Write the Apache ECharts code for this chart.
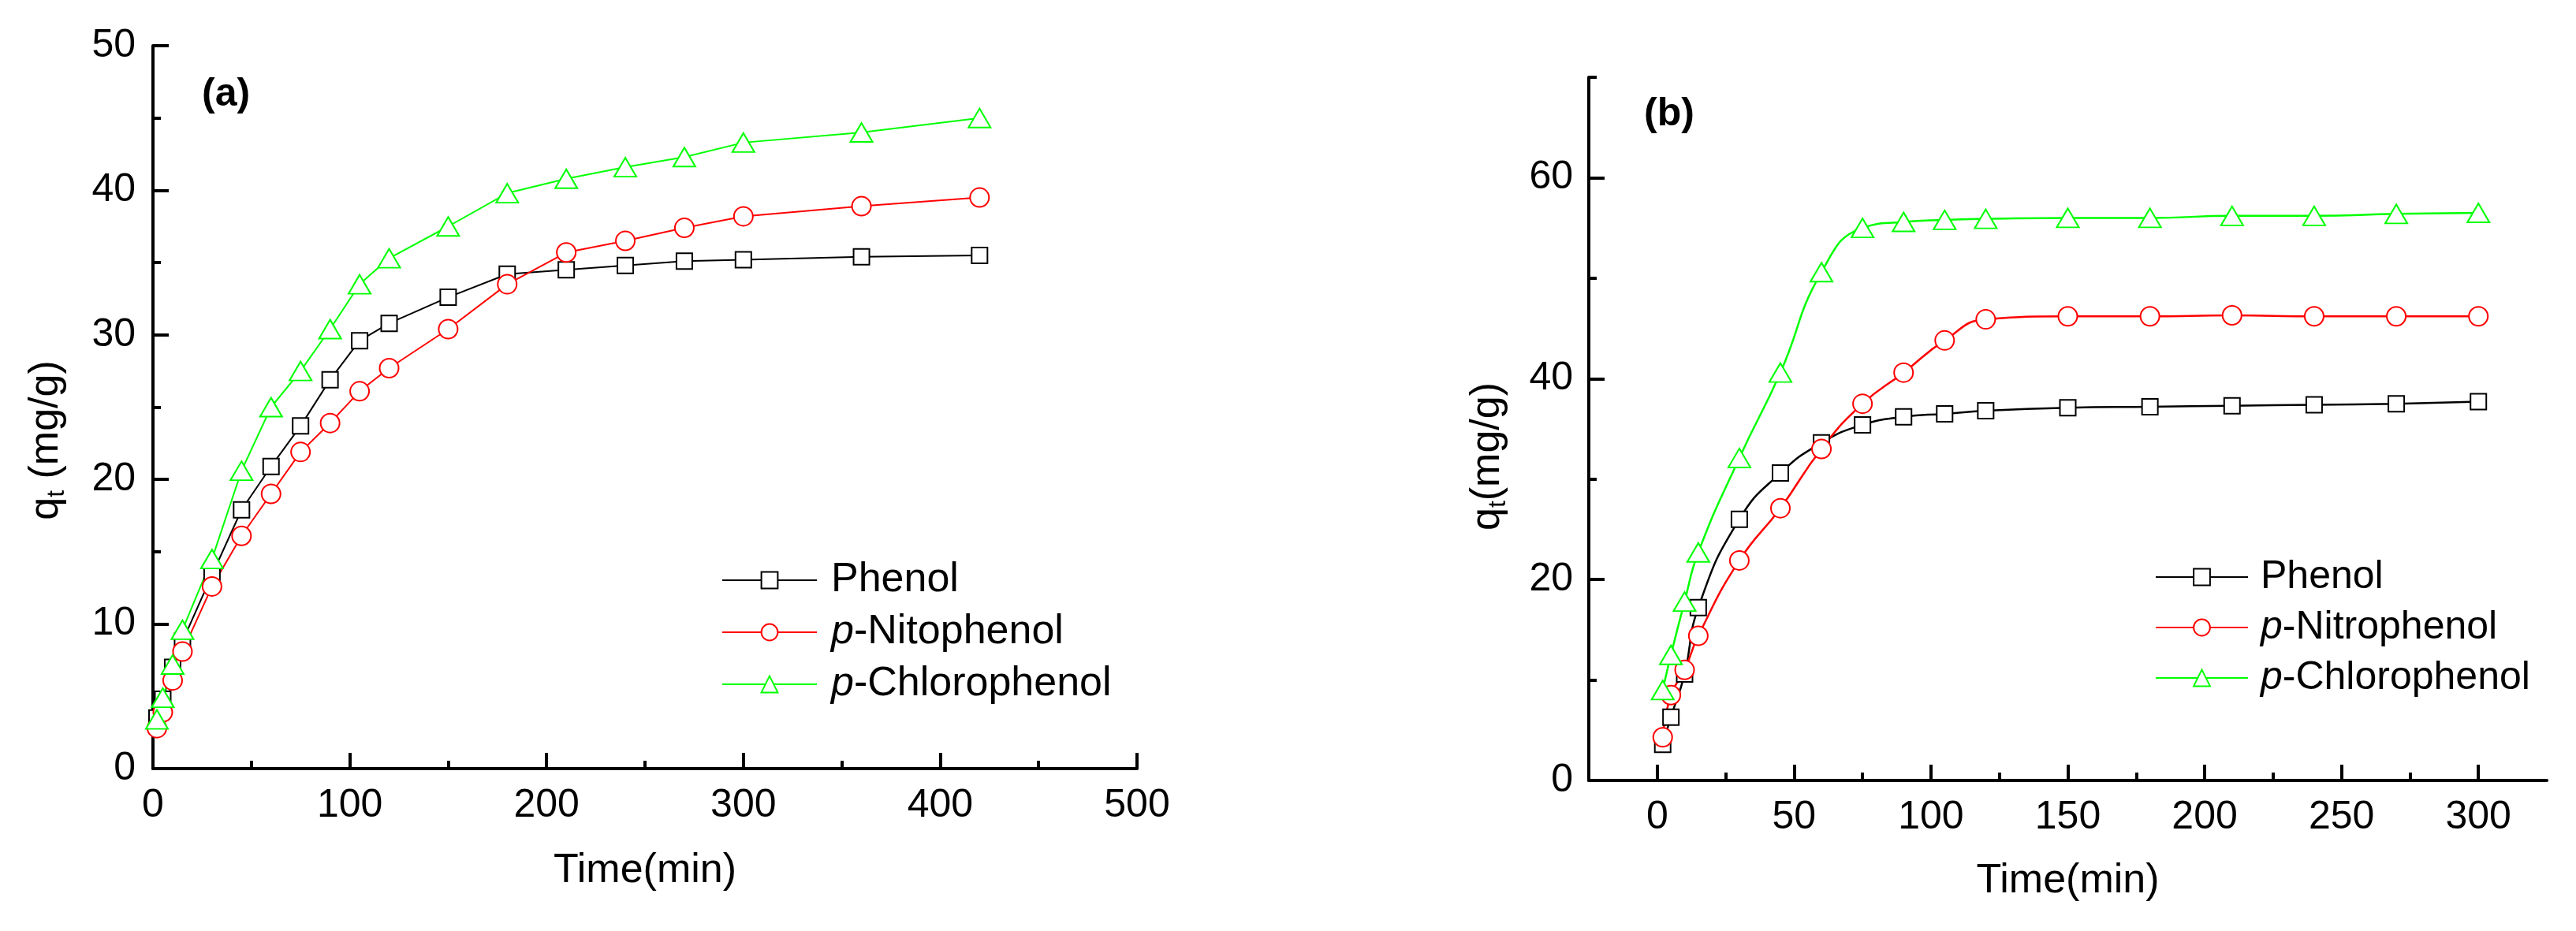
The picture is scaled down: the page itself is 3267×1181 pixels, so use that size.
<!DOCTYPE html>
<html>
<head>
<meta charset="utf-8">
<script src="https://cdn.jsdelivr.net/npm/echarts@6/dist/echarts.min.js"></script>
<style>
  html, body { margin: 0; padding: 0; background: #fff; }
  #main { width: 3267px; height: 1181px; }
</style>
</head>
<body>
<div id="main"></div>
<script>
// ---- panel (a) data ----
var timeA = [2, 5, 10, 15, 30, 45, 60, 75, 90, 105, 120, 150, 180, 210, 240, 270, 300, 360, 420];
var phenolA = [3.5, 4.8, 7.0, 8.8, 13.4, 17.9, 20.9, 23.7, 26.9, 29.6, 30.8, 32.6, 34.2, 34.5, 34.8, 35.1, 35.2, 35.4, 35.5];
var nitroA = [2.8, 3.9, 6.1, 8.1, 12.6, 16.1, 19.0, 21.9, 23.9, 26.1, 27.7, 30.4, 33.5, 35.7, 36.5, 37.4, 38.2, 38.9, 39.5];
var chloroA = [3.4, 4.9, 7.2, 9.6, 14.5, 20.6, 25.0, 27.5, 30.4, 33.5, 35.3, 37.5, 39.8, 40.8, 41.6, 42.3, 43.3, 44.0, 45.0];

// ---- panel (b) data ----
var timeB = [2, 5, 10, 15, 30, 45, 60, 75, 90, 105, 120, 150, 180, 210, 240, 270, 300];
var phenolB = [3.6, 6.3, 10.6, 17.2, 26.0, 30.6, 33.6, 35.4, 36.2, 36.5, 36.8, 37.1, 37.2, 37.3, 37.4, 37.5, 37.7];
var nitroB = [4.3, 8.5, 11.0, 14.4, 21.9, 27.1, 33.0, 37.5, 40.6, 43.8, 45.9, 46.2, 46.2, 46.3, 46.2, 46.2, 46.2];
var chloroB = [9.0, 12.5, 17.8, 22.7, 32.1, 40.6, 50.6, 55.0, 55.6, 55.8, 55.9, 56.0, 56.0, 56.2, 56.2, 56.4, 56.5];

// axis ticks for panel (b), which starts at -25
var xLabelsB = [0, 50, 100, 150, 200, 250, 300];
var xMinorB = [25, 75, 125, 175, 225, 275];
var yLabelsB = [0, 20, 40, 60];
var yMinorB = [10, 30, 50, 70];

var namesA = ['Phenol', 'p-Nitophenol', 'p-Chlorophenol'];
var namesB = ['Phenol', 'p-Nitrophenol', 'p-Chlorophenol'];

function pairs(xs, ys) {
    return xs.map(function (x, i) { return [x, ys[i]]; });
}

var FONT = '"Liberation Sans", Arial, sans-serif';
var black = '#000000', red = '#ff0000', green = '#00ff00';

var myChart = echarts.init(document.getElementById('main'));

var lbl = { color: '#000', fontSize: 50, fontFamily: FONT, margin: 22 };
var tickStyle = { width: 4, color: '#000' };
var axLine = { onZero: false, lineStyle: { color: '#000', width: 4 } };
var nameRich = {
    q: { fontSize: 52, fontFamily: FONT, color: '#000' },
    t: { fontSize: 32, fontFamily: FONT, color: '#000', padding: [27, 0, 0, 0] }
};

function makeSeries(name, xi, yi, data, color, symbol, size, smooth, lw) {
    return {
        name: name,
        type: 'line',
        xAxisIndex: xi,
        yAxisIndex: yi,
        data: data,
        smooth: smooth,
        symbol: symbol,
        symbolSize: size,
        showAllSymbol: true,
        lineStyle: { color: color, width: lw },
        itemStyle: { color: color, borderColor: color, borderWidth: 2.5 },
        emphasis: { disabled: true },
        z: 3
    };
}

function legendFmt(name) {
    if (name.indexOf('p-') === 0) return '{i|p}-' + name.slice(2);
    return name;
}

function legendText(size, pad) {
    return {
        fontSize: size, fontFamily: FONT, color: '#000', padding: [0, 0, 0, pad],
        rich: { i: { fontSize: size, fontStyle: 'italic', fontFamily: FONT, color: '#000' } }
    };
}

var option = {
    animation: false,
    backgroundColor: '#fff',
    title: [
        { text: '(a)', left: 256, top: 95, padding: 0,
          textStyle: { fontSize: 50, fontWeight: 'bold', fontFamily: FONT, color: '#000' } },
        { text: '(b)', left: 2085, top: 120, padding: 0,
          textStyle: { fontSize: 50, fontWeight: 'bold', fontFamily: FONT, color: '#000' } }
    ],
    grid: [
        { left: 194, top: 58, width: 1248, height: 917 },
        { left: 2015, top: 98, width: 1215, height: 892 }
    ],
    legend: [
        {
            orient: 'vertical', left: 910, top: 705, itemWidth: 120, itemHeight: 26, itemGap: 14,
            selectedMode: false, data: namesA, formatter: legendFmt,
            textStyle: legendText(52, 13)
        },
        {
            orient: 'vertical', left: 2728, top: 702, itemWidth: 117, itemHeight: 26, itemGap: 14,
            selectedMode: false, data: namesB, formatter: legendFmt,
            textStyle: legendText(50, 11)
        }
    ],
    xAxis: [
        {
            gridIndex: 0, type: 'value', min: 0, max: 500, interval: 100,
            name: 'Time(min)', nameLocation: 'middle', nameGap: 104,
            nameTextStyle: { fontSize: 52, fontFamily: FONT, color: '#000' },
            axisLine: axLine,
            axisTick: { inside: true, length: 20, lineStyle: tickStyle },
            minorTick: { show: true, splitNumber: 2, length: 10, lineStyle: tickStyle },
            axisLabel: lbl, splitLine: { show: false }
        },
        {
            gridIndex: 1, type: 'value', min: -25, max: 325, position: 'bottom',
            name: 'Time(min)', nameLocation: 'middle', nameGap: 102,
            nameTextStyle: { fontSize: 52, fontFamily: FONT, color: '#000' },
            axisLine: axLine,
            axisTick: { inside: true, length: 20, customValues: xLabelsB, lineStyle: tickStyle },
            axisLabel: Object.assign({}, lbl, { customValues: xLabelsB }),
            splitLine: { show: false }
        },
        {
            gridIndex: 1, type: 'value', min: -25, max: 325, position: 'bottom',
            axisLine: { show: false, onZero: false },
            axisTick: { inside: true, length: 10, customValues: xMinorB, lineStyle: tickStyle },
            axisLabel: { show: false }, splitLine: { show: false }
        }
    ],
    yAxis: [
        {
            gridIndex: 0, type: 'value', min: 0, max: 50, interval: 10,
            name: '{q|q}{t|t}{q| (mg/g)}', nameLocation: 'middle', nameGap: 106,
            nameTextStyle: { rich: nameRich, padding: [0, 84, 0, 0] },
            axisLine: axLine,
            axisTick: { inside: true, length: 20, lineStyle: tickStyle },
            minorTick: { show: true, splitNumber: 2, length: 10, lineStyle: tickStyle },
            axisLabel: lbl, splitLine: { show: false }
        },
        {
            gridIndex: 1, type: 'value', min: 0, max: 70, position: 'left',
            name: '{q|q}{t|t}{q|(mg/g)}', nameLocation: 'middle', nameGap: 99,
            nameTextStyle: { rich: nameRich, padding: [0, 70, 0, 0] },
            axisLine: axLine,
            axisTick: { inside: true, length: 20, customValues: yLabelsB, lineStyle: tickStyle },
            axisLabel: Object.assign({}, lbl, { margin: 20, customValues: yLabelsB }),
            splitLine: { show: false }
        },
        {
            gridIndex: 1, type: 'value', min: 0, max: 70, position: 'left',
            axisLine: { show: false, onZero: false },
            axisTick: { inside: true, length: 10, customValues: yMinorB, lineStyle: tickStyle },
            axisLabel: { show: false }, splitLine: { show: false }
        }
    ],
    series: [
        makeSeries('Phenol', 0, 0, pairs(timeA, phenolA), black, 'emptyRect', 20, false, 2),
        makeSeries('p-Nitophenol', 0, 0, pairs(timeA, nitroA), red, 'emptyCircle', 24, false, 2),
        makeSeries('p-Chlorophenol', 0, 0, pairs(timeA, chloroA), green, 'emptyTriangle', [28, 24], false, 2),
        makeSeries('Phenol', 1, 1, pairs(timeB, phenolB), black, 'emptyRect', 20, true, 2.5),
        makeSeries('p-Nitrophenol', 1, 1, pairs(timeB, nitroB), red, 'emptyCircle', 24, true, 2.5),
        makeSeries('p-Chlorophenol', 1, 1, pairs(timeB, chloroB), green, 'emptyTriangle', [28, 24], true, 2.5)
    ]
};

myChart.setOption(option);
</script>
</body>
</html>
